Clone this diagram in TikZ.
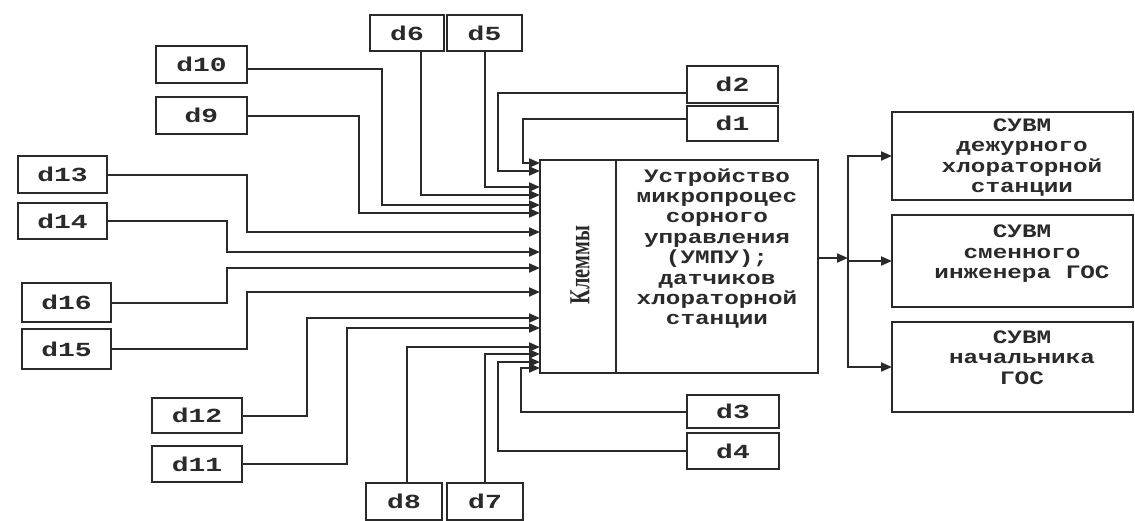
\documentclass[tikz,border=0pt]{standalone}
\usepackage{fontspec}
\usetikzlibrary{arrows.meta,calc}
\newfontfamily\dfont[FakeStretch=1.4]{Liberation Mono}
\newfontfamily\tfont[FakeStretch=1.28]{Liberation Mono}
\newfontfamily\kfont[FakeStretch=0.7]{Liberation Serif}
\definecolor{ink}{HTML}{2a2a2a}
\begin{document}
\begin{tikzpicture}[x=1pt,y=-1pt,
  every node/.style={inner sep=0pt,outer sep=0pt},
  dbox/.style={draw=ink,line width=2.2pt,minimum width=90pt,minimum height=36pt,
    font=\dfont\bfseries\fontsize{20}{20}\selectfont,text=ink},
  bigbox/.style={draw=ink,line width=2.2pt},
  txt/.style={align=center,text=ink,font=\tfont\bfseries\fontsize{19}{20.4}\selectfont},
  conn/.style={draw=ink,line width=2pt},
  arr/.style={conn,-{Triangle[length=11pt,width=9pt]}}]
\fill[white] (0,0) rectangle (1135,520);
\useasboundingbox (0,0) rectangle (1135,520);

% central block
\node[bigbox,minimum width=76pt,minimum height=213pt] (kl) at (578,266.5) {};
\node[rotate=90,text=ink,font=\kfont\bfseries\fontsize{29}{29}\selectfont] (kltext) at (580,265) {Клеммы};
\node[bigbox,minimum width=202pt,minimum height=213pt] (umpu) at (717,266.5) {};
\node[txt] (umputext) at (717,248.5) {Устройство\\микропроцес\\сорного\\управления\\(УМПУ);\\датчиков\\хлораторной\\станции};

% right boxes
\node[bigbox,minimum width=241pt,minimum height=88pt] (s1) at (1012.5,156) {};
\node[txt] (s1text) at (1022,157.5) {СУВМ\\дежурного\\хлораторной\\станции};
\node[bigbox,minimum width=241pt,minimum height=92pt] (s2) at (1012.5,261) {};
\node[txt] (s2text) at (1022,254) {СУВМ\\сменного\\инженера ГОС};
\node[bigbox,minimum width=241pt,minimum height=90pt] (s3) at (1012.5,367) {};
\node[txt] (s3text) at (1022,357.5) {СУВМ\\начальника\\ГОС};

% sensor boxes
\node[dbox,minimum width=91pt,minimum height=35pt] (d1) at (732.5,123.5) {d1};
\node[dbox,minimum width=91pt,minimum height=37pt] (d2) at (732.5,84.5) {d2};
\node[dbox,minimum width=92pt,minimum height=33pt] (d3) at (733,411.5) {d3};
\node[dbox,minimum width=92pt,minimum height=36pt] (d4) at (733,451) {d4};
\node[dbox,minimum width=75pt,minimum height=36pt] (d5) at (484.5,33) {d5};
\node[dbox,minimum width=74pt,minimum height=36pt] (d6) at (407,33) {d6};
\node[dbox,minimum width=76pt,minimum height=37pt] (d7) at (485,501.5) {d7};
\node[dbox,minimum width=76pt,minimum height=37pt] (d8) at (404,501.5) {d8};
\node[dbox,minimum width=91pt,minimum height=37pt] (d9) at (201.5,115.5) {d9};
\node[dbox,minimum width=91pt,minimum height=37pt] (d10) at (201.5,64.5) {d10};
\node[dbox,minimum width=90pt,minimum height=36pt] (d11) at (197,464) {d11};
\node[dbox,minimum width=90pt,minimum height=35pt] (d12) at (197,415.5) {d12};
\node[dbox,minimum width=89pt,minimum height=37pt] (d13) at (62.5,174.5) {d13};
\node[dbox,minimum width=89pt,minimum height=36pt] (d14) at (62.5,221) {d14};
\node[dbox,minimum width=89pt,minimum height=40pt] (d15) at (66.5,349) {d15};
\node[dbox,minimum width=89pt,minimum height=39pt] (d16) at (66.5,302.5) {d16};

% inputs
\draw[arr] ([yshift=4.5pt]d1.west) -| (523,163) -- (kl.west |- 0,163);
\draw[arr] ([yshift=-8.5pt]d2.west) -| (498,171) -- (kl.west |- 0,171);
\draw[arr] (d5.south) |- (kl.west |- 0,187);
\draw[arr] ([xshift=14pt]d6.south) |- (kl.west |- 0,195);
\draw[arr] ([yshift=-4.5pt]d10.east) -| (382,205) -- (kl.west |- 0,205);
\draw[arr] (d9.east) -| (359,213) -- (kl.west |- 0,213);
\draw[arr] (d13.east) -| (247,232) -- (kl.west |- 0,232);
\draw[arr] (d14.east) -| (227,252) -- (kl.west |- 0,252);
\draw[arr] (d16.east) -| (227,268) -- (kl.west |- 0,268);
\draw[arr] (d15.east) -| (247,292) -- (kl.west |- 0,292);
\draw[arr] (d12.east) -| (307,318) -- (kl.west |- 0,318);
\draw[arr] (d11.east) -| (347,328) -- (kl.west |- 0,328);
\draw[arr] ([xshift=3pt]d8.north) |- (kl.west |- 0,347);
\draw[arr] (d7.north) |- (kl.west |- 0,354);
\draw[arr] (d4.west) -| (498,362) -- (kl.west |- 0,362);
\draw[arr] (d3.west) -| (521,368) -- (kl.west |- 0,368);

% outputs
\coordinate (bus) at (848,258);
\draw[arr] (umpu.east |- bus) -- (bus);
\draw[arr] (bus) |- (s1.west);
\draw[arr] (bus |- s2.west) -- (s2.west);
\draw[arr] (bus) |- (s3.west);
\end{tikzpicture}
\end{document}
